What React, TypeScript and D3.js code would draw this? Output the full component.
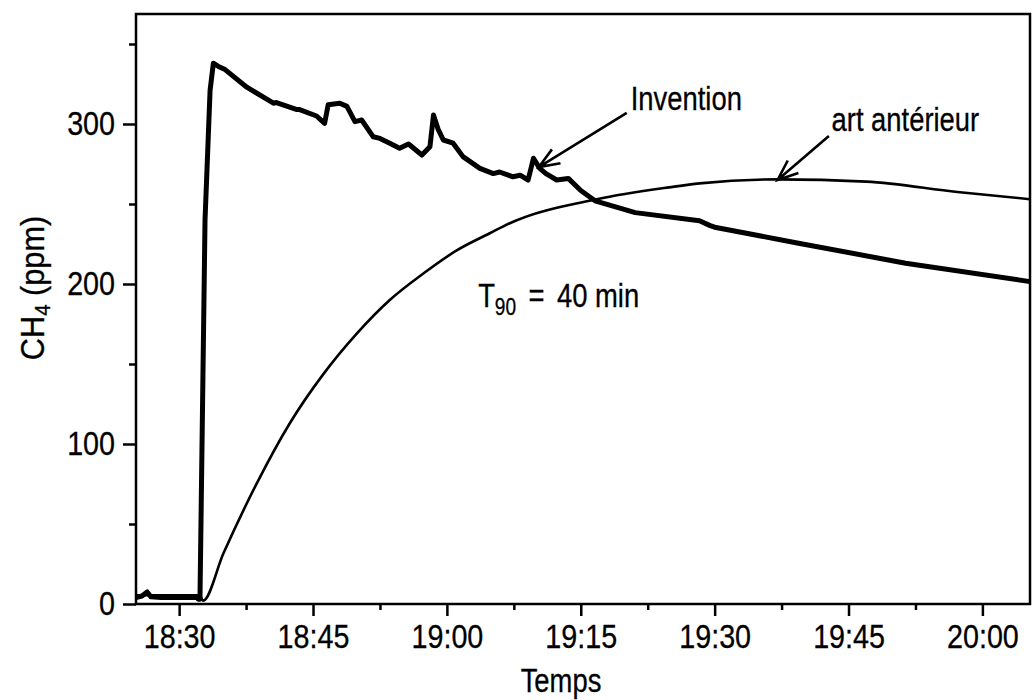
import React, { useEffect, useRef } from "react";
import * as d3 from "d3";

// Invention (thick line): clock time / CH4 ppm
const inventionTimes = [
  "18:25:10", "18:25:50", "18:26:25", "18:26:50", "18:28:00", "18:32:00", "18:32:10", "18:32:20",
  "18:32:54", "18:33:28", "18:33:50", "18:34:24", "18:35:09", "18:37:35", "18:40:34", "18:40:54",
  "18:43:12", "18:43:30", "18:45:24", "18:46:18", "18:46:42", "18:48:00", "18:48:48", "18:49:42",
  "18:50:27", "18:51:45", "18:52:30", "18:53:36", "18:54:42", "18:55:42", "18:57:12", "18:58:06",
  "18:58:30", "18:59:00", "18:59:36", "19:00:42", "19:01:48", "19:03:42", "19:05:12", "19:05:54",
  "19:07:24", "19:08:12", "19:09:06", "19:09:42", "19:10:24", "19:11:06", "19:12:18", "19:13:36",
  "19:15:00", "19:16:36", "19:21:06", "19:28:18", "19:29:30", "19:30:00", "19:39:24", "19:51:24",
  "20:05:20",
];
const inventionValues = [
  4, 5, 7.5, 4.5, 4, 4, 3, 3,
  240, 321, 338, 336, 334, 323, 313, 313.4,
  309, 309, 305, 300.4, 312, 313, 311, 301.5,
  302.5, 292, 291, 288, 284.8, 287.5, 280.6, 285.8,
  305.6, 297, 290, 288, 279.6, 272.3, 269, 270,
  267, 268, 265, 278.6, 272.3, 269, 265, 266,
  258.4, 252, 244.6, 239.5, 236.5, 235.5, 225.5, 213,
  201.5,
];

// Prior art (thin line)
const priorArtTimes = [
  "18:25:10", "18:32:20", "18:32:40", "18:34:58", "18:38:42", "18:42:24", "18:46:12", "18:49:54",
  "18:53:36", "18:57:24", "19:01:06", "19:04:48", "19:07:03", "19:16:48", "19:24:54", "19:28:18",
  "19:37:00", "19:47:00", "19:57:12", "20:05:20",
];
const priorArtValues = [
  5.5, 5.5, 2, 31.7, 75.4, 113, 144, 169,
  190, 206.7, 221, 231.7, 238, 253, 260.4, 262.9,
  265.4, 264, 257.5, 253,
];

const xMajorTicks = ["18:30", "18:45", "19:00", "19:15", "19:30", "19:45", "20:00"];
const xMinorTicks = ["18:37:30", "18:52:30", "19:07:30", "19:22:30", "19:37:30", "19:52:30"];
const yMajorTicks = [0, 100, 200, 300];
const yMinorTicks = [50, 150, 250, 350];

const xStart = "18:25:10";
const xEnd = "20:05:20";
const yMax = 368.75;

// condensed look: Arial metrics squeezed horizontally
const FONT = "'Liberation Sans', Arial, sans-serif";
const SQ = 0.83;
const SQ_TICK = 0.87;

const parseT = (s: string) => {
  const p = s.split(":").map(Number);
  return new Date(2000, 0, 1, p[0], p[1], p[2] || 0);
};

function Chart() {
  const ref = useRef<SVGSVGElement>(null);

  useEffect(() => {
    const svg = d3.select(ref.current);
    svg.selectAll("*").remove();

    const left = 136, right = 1030, top = 14, bottom = 604;

    const x = d3.scaleTime().domain([parseT(xStart), parseT(xEnd)]).range([left, right]);
    const y = d3.scaleLinear().domain([0, yMax]).range([bottom, top]);

    // frame
    svg.append("rect")
      .attr("x", left).attr("y", top)
      .attr("width", right - left).attr("height", bottom - top)
      .attr("fill", "none").attr("stroke", "#000").attr("stroke-width", 2.5);

    // x axis
    const xa = svg.append("g").attr("transform", "translate(0," + bottom + ")")
      .call(d3.axisBottom(x)
        .tickValues(xMajorTicks.map(parseT))
        .tickFormat(d3.timeFormat("%H:%M") as any)
        .tickSize(12).tickPadding(9));
    svg.append("g").attr("transform", "translate(0," + bottom + ")")
      .call(d3.axisBottom(x).tickValues(xMinorTicks.map(parseT)).tickFormat(() => "").tickSize(6))
      .call(g => g.select(".domain").remove());

    // y axis
    const ya = svg.append("g").attr("transform", "translate(" + left + ",0)")
      .call(d3.axisLeft(y).tickValues(yMajorTicks).tickSize(13).tickPadding(8));
    svg.append("g").attr("transform", "translate(" + left + ",0)")
      .call(d3.axisLeft(y).tickValues(yMinorTicks).tickFormat(() => "").tickSize(7))
      .call(g => g.select(".domain").remove());

    [xa, ya].forEach(g => g.select(".domain").remove());
    svg.selectAll(".tick line").attr("stroke-width", 2.5);
    svg.selectAll(".tick text").attr("font-family", FONT).attr("font-size", 33).attr("fill", "#000")
      .attr("stroke", "#000").attr("stroke-width", 0.3)
      .attr("transform", "scale(" + SQ_TICK + ",1)");
    ya.selectAll(".tick text").attr("x", -21 / SQ_TICK);

    // lines
    const line = d3.line<[Date, number]>().x(d => x(d[0])).y(d => y(d[1]));

    svg.append("path")
      .datum(priorArtTimes.map((t, i) => [parseT(t), priorArtValues[i]] as [Date, number]))
      .attr("fill", "none").attr("stroke", "#000").attr("stroke-width", 2.6)
      .attr("d", line.curve(d3.curveMonotoneX));

    svg.append("path")
      .datum(inventionTimes.map((t, i) => [parseT(t), inventionValues[i]] as [Date, number]))
      .attr("fill", "none").attr("stroke", "#000").attr("stroke-width", 5)
      .attr("stroke-linejoin", "round")
      .attr("d", line.curve(d3.curveLinear));

    const label = (tr: string, anchor = "start", sq = SQ) =>
      svg.append("text")
        .attr("transform", tr + " scale(" + sq + ",1)")
        .attr("text-anchor", anchor)
        .attr("font-family", FONT).attr("font-size", 33)
        .attr("stroke", "#000").attr("stroke-width", 0.3);

    // axis titles
    label("translate(" + ((left + right) / 2 - 22) + ",692)", "middle").text("Temps");

    const yl = label("translate(44,288) rotate(-90)", "middle", 0.93);
    yl.append("tspan").text("CH");
    yl.append("tspan").attr("font-size", 22).attr("dy", 6).text("4");
    yl.append("tspan").attr("dy", -6).text(" (ppm)");

    // T90 note
    const tn = label("translate(" + x(parseT("19:03:30")) + "," + y(185.6) + ")");
    tn.append("tspan").text("T");
    tn.append("tspan").attr("font-size", 23).attr("dy", 8).text("90");
    tn.append("tspan").attr("dy", -8).attr("dx", 15).text("=");
    tn.append("tspan").attr("dx", 15).text("40 min");

    // labels with arrows
    const notes = [
      { label: "Invention", tx: "19:20:36", tv: 308.75, from: ["19:20:09", 306.9], to: ["19:10:18", 273.1] },
      { label: "art antérieur", tx: "19:43:06", tv: 295.6, from: ["19:42:48", 292.5], to: ["19:37:03", 265] },
    ];
    notes.forEach(n => {
      label("translate(" + x(parseT(n.tx)) + "," + y(n.tv) + ")").text(n.label);
      const x1 = x(parseT(n.from[0] as string)), y1 = y(n.from[1] as number);
      const x2 = x(parseT(n.to[0] as string)), y2 = y(n.to[1] as number);
      const ang = Math.atan2(y1 - y2, x1 - x2);
      const L = 22, a = 0.38;
      const p = d3.path();
      p.moveTo(x1, y1); p.lineTo(x2, y2);
      p.moveTo(x2 + L * Math.cos(ang + a), y2 + L * Math.sin(ang + a));
      p.lineTo(x2, y2);
      p.lineTo(x2 + L * Math.cos(ang - a), y2 + L * Math.sin(ang - a));
      svg.append("path").attr("d", p.toString())
        .attr("fill", "none").attr("stroke", "#000").attr("stroke-width", 2.6);
    });
  }, []);

  return (
    <svg ref={ref} width={1032} height={700}
      style={{ position: "absolute", left: 0, top: 0, background: "#fff" }} />
  );
}

export default function App() {
  return <Chart />;
}
